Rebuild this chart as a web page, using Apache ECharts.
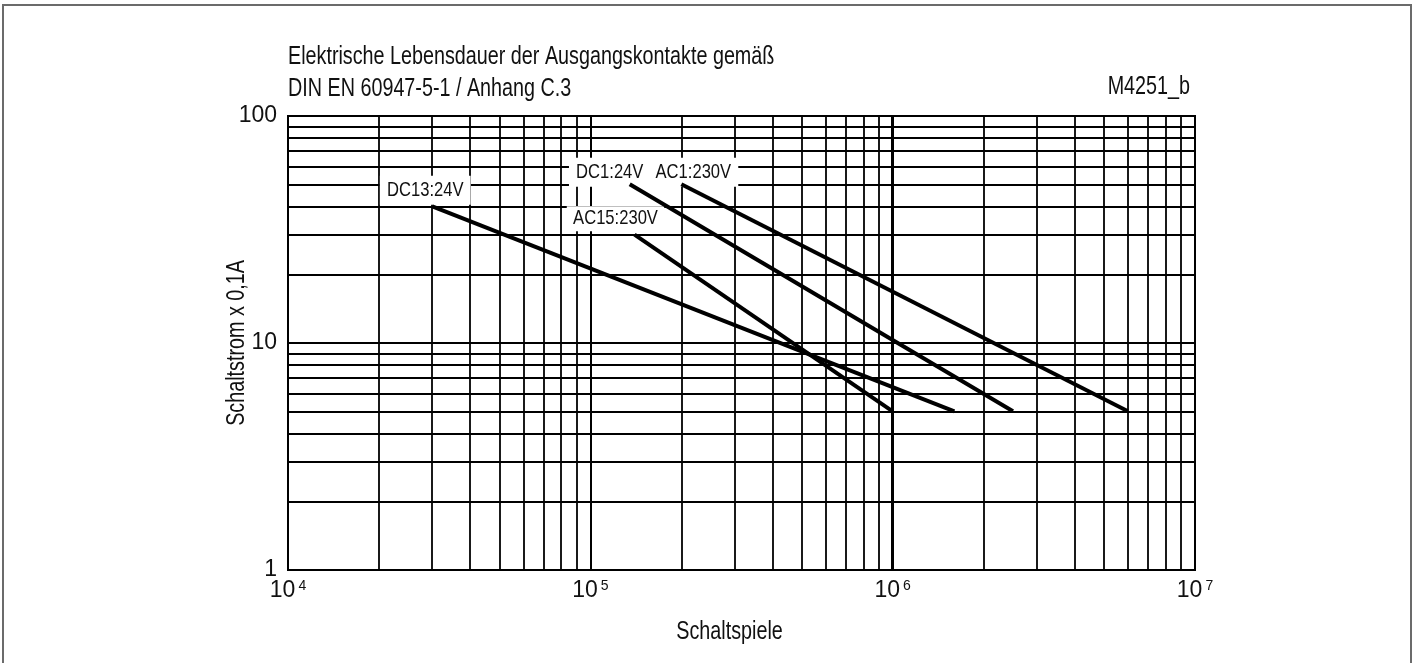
<!DOCTYPE html>
<html>
<head>
<meta charset="utf-8">
<style>
  html, body { margin: 0; padding: 0; background: #fff; }
  #chart { width: 1419px; height: 663px; }
</style>
<script src="https://cdn.jsdelivr.net/npm/echarts@6/dist/echarts.min.js"></script>
</head>
<body>
<div id="chart"></div>
<script>
// Axis ranges and tick labels
const xTicks = [1e4, 1e5, 1e6, 1e7];
const yTicks = [1, 10, 100];
// Decade grid: mantissas 2..9 inside every decade
const mantissas = [2, 3, 4, 5, 6, 7, 8, 9];
const xDecades = [1e4, 1e5, 1e6];
const yDecades = [1, 10];

// Life curves: [switching cycles, current x 0.1 A]
const dc13 = [[3e4, 40], [1.6e6, 5]];
const ac15 = [[1.4e5, 30], [1e6, 5]];
const dc1 = [[1.35e5, 50], [2.5e6, 5]];
const ac1 = [[2e5, 50], [6e6, 5]];

const curveNames = ['DC13:24V', 'AC15:230V', 'DC1:24V', 'AC1:230V'];
const curveData = [dc13, ac15, dc1, ac1];

// Texts
const titleLines = ['Elektrische Lebensdauer der Ausgangskontakte gemäß', 'DIN EN 60947-5-1 / Anhang C.3'];
const drawingNo = 'M4251_b';
const xName = 'Schaltspiele';
const yName = 'Schaltstrom x 0,1A';

const FONT = '"Liberation Sans", Arial, sans-serif';
const NARROW = 0.79;   // horizontal squeeze for a condensed face
const INK = '#111';

const xMinor = [];
xDecades.forEach(d => mantissas.forEach(m => xMinor.push(m * d)));
const yMinor = [];
yDecades.forEach(d => mantissas.forEach(m => yMinor.push(m * d)));
const xMajorInner = xTicks.slice(1, -1);
const yMajorInner = yTicks.slice(1, -1);

function gridLines() {
  const data = [];
  xMinor.forEach(v => data.push({ xAxis: v }));
  yMinor.forEach(v => data.push({ yAxis: v }));
  xMajorInner.forEach(v => data.push({ xAxis: v, lineStyle: { width: v === 1e6 ? 3 : 2 } }));
  yMajorInner.forEach(v => data.push({ yAxis: v, lineStyle: { width: 2 } }));
  return data;
}

function curve(name, pts) {
  return {
    name: name,
    type: 'line',
    z: 5,
    data: pts,
    symbol: 'none',
    lineStyle: { color: '#000', width: 4 },
    animation: false
  };
}

const chart = echarts.init(document.getElementById('chart'));
chart.setOption({
  backgroundColor: '#fff',
  animation: false,
  grid: {
    left: 288, right: 224, top: 116, bottom: 93,
    show: true, borderColor: '#000', borderWidth: 2
  },
  xAxis: {
    type: 'log',
    logBase: 10,
    min: xTicks[0],
    max: xTicks[xTicks.length - 1],
    axisLine: { lineStyle: { color: '#000', width: 2 } },
    axisTick: { show: false },
    splitLine: { show: false },
    axisLabel: {
      margin: 9,
      color: INK,
      formatter: v => '{b|10}{s|' + Math.round(Math.log10(v)) + '}',
      rich: {
        b: { fontFamily: FONT, fontSize: 23, color: INK },
        s: { fontFamily: FONT, fontSize: 14, color: INK, verticalAlign: 'top', padding: [0, 0, 4, 3] }
      }
    }
  },
  yAxis: {
    type: 'log',
    logBase: 10,
    min: yTicks[0],
    max: yTicks[yTicks.length - 1],
    axisLine: { lineStyle: { color: '#000', width: 2 } },
    axisTick: { show: false },
    splitLine: { show: false },
    axisLabel: { margin: 11, color: INK, fontFamily: FONT, fontSize: 23 }
  },
  series: [{
    name: 'grid',
    type: 'line',
    z: 0,
    data: [],
    silent: true,
    markLine: {
      z: 1,
      silent: true,
      animation: false,
      symbol: 'none',
      label: { show: false },
      lineStyle: { color: '#000', width: 1.8, type: 'solid' },
      emphasis: { disabled: true },
      data: gridLines()
    }
  }].concat(curveNames.map((n, i) => curve(n, curveData[i])))
});

// Condensed text pieces (squeezed along the text direction)
function narrowText(text, x, y, opts) {
  opts = opts || {};
  return {
    type: 'text',
    x: x,
    y: y,
    z: opts.z || 100,
    silent: true,
    scaleX: NARROW,
    rotation: opts.rotate || 0,
    style: Object.assign({
      text: text,
      fontFamily: FONT,
      fontSize: opts.size || 25,
      fill: INK,
      align: opts.align || 'left',
      verticalAlign: 'middle'
    }, opts.extra || {})
  };
}

// Curve captions sit on a white patch just above each curve's starting point,
// over the grid but under the curves
const captionOffsets = [[-7, -16], [-19, -16], [-20, -12], [12, -12]];
const captionPadding = [[6, 9, 2, 9], [2, 8, 2, 8], [6, 9, 2, 9], [6, 9, 2, 9]];
const captions = curveNames.map((n, i) => {
  const p = chart.convertToPixel({ gridIndex: 0 }, curveData[i][0]);
  return narrowText(n, p[0] + captionOffsets[i][0], p[1] + captionOffsets[i][1], {
    size: 21, align: 'center', z: 3,
    extra: { backgroundColor: '#fff', padding: captionPadding[i] }
  });
});

const plotL = chart.convertToPixel({ gridIndex: 0 }, [xTicks[0], yTicks[0]]);
const plotR = chart.convertToPixel({ gridIndex: 0 }, [xTicks[xTicks.length - 1], yTicks[yTicks.length - 1]]);

chart.setOption({
  graphic: [
    {
      type: 'rect',
      silent: true,
      z: 0,
      shape: { x: 3, y: 5, width: 1408, height: 700 },
      style: { fill: 'none', stroke: '#6b6b6b', lineWidth: 2 }
    },
    narrowText(titleLines[0], plotL[0], 57),
    narrowText(titleLines[1], plotL[0], 89),
    narrowText(drawingNo, plotR[0] - 5, 87, { align: 'right' }),
    narrowText(xName, (plotL[0] + plotR[0]) / 2 - 12, 632, { align: 'center' }),
    narrowText(yName, plotL[0] - 51, (plotL[1] + plotR[1]) / 2, { align: 'center', rotate: Math.PI / 2 })
  ].concat(captions)
});
</script>
</body>
</html>
